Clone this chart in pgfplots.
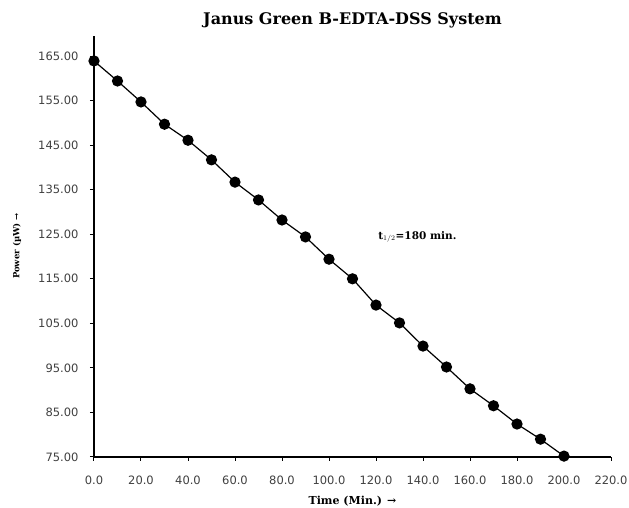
\documentclass[border=0pt]{standalone}
\usepackage{fontspec}
\setmainfont{DejaVu Serif}
\newfontfamily\tickfont{DejaVu Sans}
\usepackage{pgfplots}
\pgfplotsset{compat=1.18}
\pgfplotstableread{
t p
0 163.9
10 159.4
20 154.7
30 149.7
40 146.1
50 141.7
60 136.7
70 132.7
80 128.2
90 124.4
100 119.4
110 115.0
120 109.1
130 105.1
140 99.9
150 95.2
160 90.3
170 86.5
180 82.4
190 79.0
200 75.2
}\datatable
\begin{document}
\begin{tikzpicture}[x=1pt,y=1pt]
\begin{axis}[
  at={(0,0)}, anchor=origin,
  scale only axis,
  width=517pt, height=421pt,
  xmin=0, xmax=220, ymin=75, ymax=169.5,
  axis lines*=left,
  axis line style={line width=1.3pt, -},
  xtick={0,20,...,220},
  ytick={75,85,...,165},
  tick style={black, line width=1pt},
  tick align=outside,
  major tick length=4pt,
  /pgf/number format/assume math mode=true,
  xticklabel={\pgfmathprintnumber[fixed,fixed zerofill,precision=1,assume math mode=true]{\tick}},
  yticklabel={\pgfmathprintnumber[fixed,fixed zerofill,precision=2,assume math mode=true]{\tick}},
  ticklabel style={font=\tickfont\fontsize{11.5}{12}\selectfont, text=black!75},
  xticklabel style={yshift=-11pt},
  yticklabel style={xshift=-8pt},
  clip=false,
]
\addplot[black, line width=1.2pt, mark=*, mark size=5pt, mark options={fill=black}] table[x=t,y=p] {\datatable};
\node[font=\bfseries\fontsize{10.5}{12}\selectfont, anchor=west] at (axis cs:119.5,124.4) {t$_{1/2}$=180 min.};
\end{axis}
\node[font=\bfseries\fontsize{16}{18}\selectfont] at (258.5,437) {Janus Green B-EDTA-DSS System};
\node[font=\bfseries\fontsize{11}{13}\selectfont] at (258.5,-44) {Time (Min.) \textrightarrow};
\node[font=\bfseries\fontsize{8.5}{10}\selectfont, rotate=90] at (-77,211) {Power (\textmu W) \textrightarrow};
\pgfresetboundingbox
\path[use as bounding box] (-94,-51) rectangle (535,457);
\end{tikzpicture}
\end{document}
